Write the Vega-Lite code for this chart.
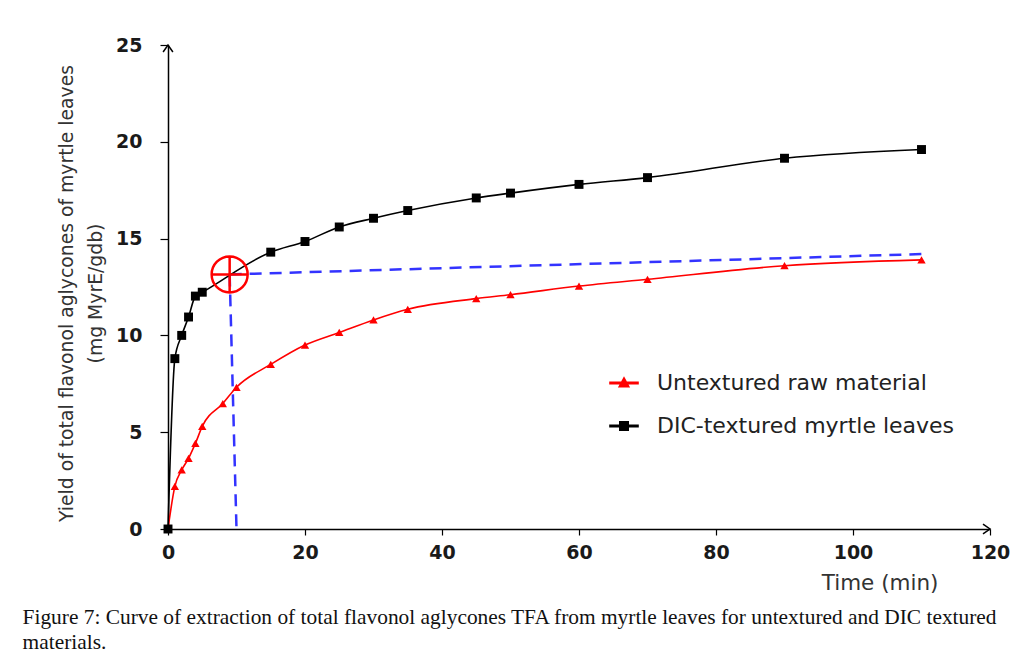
{
  "$schema": "https://vega.github.io/schema/vega-lite/v6.json",
  "width": 822,
  "height": 484,
  "autosize": {"type": "none"},
  "padding": {"left": 168, "top": 45, "right": 42, "bottom": 135},
  "background": "white",
  "config": {"view": {"stroke": null}, "font": "DejaVu Sans"},
  "title": {
    "text": ["Figure 7: Curve of extraction of total flavonol aglycones TFA from myrtle leaves for untextured and DIC textured", "materials."],
    "orient": "bottom",
    "anchor": "start",
    "frame": "bounds",
    "font": "Liberation Serif",
    "fontSize": 21.4,
    "fontWeight": "normal",
    "color": "#111111",
    "lineHeight": 25,
    "offset": 13,
    "dx": -35
  },
  "datasets": {
    "curves": [
      {"series": "Untextured raw material", "time": 0, "yield": 0},
      {"series": "Untextured raw material", "time": 1, "yield": 2.2},
      {"series": "Untextured raw material", "time": 2, "yield": 3.05},
      {"series": "Untextured raw material", "time": 3, "yield": 3.65},
      {"series": "Untextured raw material", "time": 4, "yield": 4.42},
      {"series": "Untextured raw material", "time": 5, "yield": 5.3},
      {"series": "Untextured raw material", "time": 8, "yield": 6.48},
      {"series": "Untextured raw material", "time": 10, "yield": 7.32},
      {"series": "Untextured raw material", "time": 15, "yield": 8.5},
      {"series": "Untextured raw material", "time": 20, "yield": 9.5},
      {"series": "Untextured raw material", "time": 25, "yield": 10.15},
      {"series": "Untextured raw material", "time": 30, "yield": 10.8},
      {"series": "Untextured raw material", "time": 35, "yield": 11.35},
      {"series": "Untextured raw material", "time": 45, "yield": 11.9},
      {"series": "Untextured raw material", "time": 50, "yield": 12.1},
      {"series": "Untextured raw material", "time": 60, "yield": 12.55},
      {"series": "Untextured raw material", "time": 70, "yield": 12.9},
      {"series": "Untextured raw material", "time": 90, "yield": 13.6},
      {"series": "Untextured raw material", "time": 110, "yield": 13.9},
      {"series": "DIC-textured myrtle leaves", "time": 0, "yield": 0},
      {"series": "DIC-textured myrtle leaves", "time": 1, "yield": 8.8},
      {"series": "DIC-textured myrtle leaves", "time": 2, "yield": 10.0},
      {"series": "DIC-textured myrtle leaves", "time": 3, "yield": 10.95},
      {"series": "DIC-textured myrtle leaves", "time": 4, "yield": 12.03},
      {"series": "DIC-textured myrtle leaves", "time": 5, "yield": 12.23},
      {"series": "DIC-textured myrtle leaves", "time": 15, "yield": 14.3},
      {"series": "DIC-textured myrtle leaves", "time": 20, "yield": 14.85},
      {"series": "DIC-textured myrtle leaves", "time": 25, "yield": 15.6},
      {"series": "DIC-textured myrtle leaves", "time": 30, "yield": 16.05},
      {"series": "DIC-textured myrtle leaves", "time": 35, "yield": 16.45},
      {"series": "DIC-textured myrtle leaves", "time": 45, "yield": 17.1},
      {"series": "DIC-textured myrtle leaves", "time": 50, "yield": 17.35},
      {"series": "DIC-textured myrtle leaves", "time": 60, "yield": 17.8},
      {"series": "DIC-textured myrtle leaves", "time": 70, "yield": 18.15},
      {"series": "DIC-textured myrtle leaves", "time": 90, "yield": 19.15},
      {"series": "DIC-textured myrtle leaves", "time": 110, "yield": 19.6}
    ],
    "guides": [
      {"segment": "horizontal", "time": 9, "yield": 13.15},
      {"segment": "horizontal", "time": 110, "yield": 14.2},
      {"segment": "vertical", "time": 9, "yield": 13.15},
      {"segment": "vertical", "time": 10, "yield": 0}
    ],
    "marker": [{"time": 9, "yield": 13.15}]
  },
  "encoding": {
    "x": {
      "field": "time",
      "type": "quantitative",
      "scale": {"domain": [0, 120], "nice": false, "zero": false},
      "axis": {
        "values": [0, 20, 40, 60, 80, 100, 120],
        "grid": false,
        "domainColor": "#000000",
        "domainWidth": 1.5,
        "tickColor": "#000000",
        "tickSize": 6,
        "tickWidth": 1.2,
        "labelFont": "DejaVu Sans",
        "labelFontWeight": "bold",
        "labelFontSize": 19,
        "labelColor": "#1a1a1a",
        "labelPadding": 8,
        "labelFlush": false,
        "title": "Time (min)",
        "titleFont": "DejaVu Sans",
        "titleFontWeight": "normal",
        "titleFontSize": 21.5,
        "titleColor": "#333333",
        "titleX": 770,
        "titleY": 54,
        "titleAlign": "right",
        "titleBaseline": "middle"
      }
    },
    "y": {
      "field": "yield",
      "type": "quantitative",
      "scale": {"domain": [0, 25], "nice": false},
      "axis": {
        "values": [0, 5, 10, 15, 20, 25],
        "grid": false,
        "domainColor": "#000000",
        "domainWidth": 1.5,
        "tickColor": "#000000",
        "tickSize": 8,
        "tickWidth": 1.2,
        "labelFont": "DejaVu Sans",
        "labelFontWeight": "bold",
        "labelFontSize": 19,
        "labelColor": "#1a1a1a",
        "labelPadding": 18,
        "labelFlush": false,
        "title": ["Yield of total flavonol aglycones of myrtle leaves", "(mg MyrE/gdb)"],
        "titleFont": "DejaVu Sans",
        "titleFontWeight": "normal",
        "titleFontSize": 18.8,
        "titleLineHeight": 29,
        "titleColor": "#333333",
        "titlePadding": 10,
        "titleY": 248
      }
    }
  },
  "layer": [
    {
      "data": {"name": "guides"},
      "mark": {"type": "line", "color": "#3333ff", "strokeWidth": 2.5, "strokeDash": [12, 8]},
      "encoding": {"detail": {"field": "segment"}}
    },
    {
      "data": {"name": "curves"},
      "mark": {"type": "line", "interpolate": "monotone", "strokeWidth": 1.6},
      "encoding": {
        "color": {
          "field": "series",
          "type": "nominal",
          "scale": {"domain": ["Untextured raw material", "DIC-textured myrtle leaves"], "range": ["#ff0000", "#000000"]},
          "legend": {
            "orient": "none",
            "legendX": 441,
            "legendY": 323,
            "title": null,
            "symbolType": "M-1,0H1",
            "symbolSize": 784,
            "symbolStrokeWidth": 1.6,
            "labelFont": "DejaVu Sans",
            "labelFontSize": 22,
            "labelColor": "#222222",
            "labelLimit": 0,
            "labelOffset": 18,
            "rowPadding": 17,
            "padding": 0,
            "encode": {
              "symbols": {
                "update": {
                  "shape": {"signal": "datum.value === 'DIC-textured myrtle leaves' ? 'M-1,-0.055H1V0.055H-1ZM-0.3,-0.3H0.3V0.3H-0.3Z' : 'M-1,-0.055H1V0.055H-1ZM0,-0.36L0.34,0.26H-0.34Z'"},
                  "fill": {"scale": "color", "field": "value"},
                  "opacity": {"value": 1},
                  "fillOpacity": {"value": 1}
                }
              }
            }
          }
        }
      }
    },
    {
      "data": {"name": "curves"},
      "transform": [{"filter": "datum.series === 'Untextured raw material'"}],
      "mark": {"type": "point", "shape": "triangle-up", "filled": true, "color": "#ff0000", "size": 70, "opacity": 1}
    },
    {
      "data": {"name": "curves"},
      "transform": [{"filter": "datum.series === 'DIC-textured myrtle leaves'"}],
      "mark": {"type": "point", "shape": "square", "filled": true, "color": "#000000", "size": 80, "opacity": 1}
    },
    {
      "data": {"name": "marker"},
      "mark": {
        "type": "point",
        "shape": "M-1,0A1,1 0 1,0 1,0A1,1 0 1,0 -1,0M-1,0H1M0,-1V1",
        "size": 1296,
        "filled": false,
        "stroke": "#ff0000",
        "strokeWidth": 2.5,
        "opacity": 1
      }
    },
    {
      "data": {"name": "marker"},
      "mark": {"type": "point", "shape": "M-0.7,1L0,0L0.7,1", "size": 196, "filled": false, "stroke": "#000000", "strokeWidth": 1.5, "opacity": 1, "clip": false},
      "encoding": {"x": {"datum": 0, "type": "quantitative"}, "y": {"datum": 25, "type": "quantitative"}}
    },
    {
      "data": {"name": "marker"},
      "mark": {"type": "point", "shape": "M-1,-0.7L0,0L-1,0.7", "size": 196, "filled": false, "stroke": "#000000", "strokeWidth": 1.5, "opacity": 1, "clip": false},
      "encoding": {"x": {"datum": 120, "type": "quantitative"}, "y": {"datum": 0, "type": "quantitative"}}
    }
  ]
}
